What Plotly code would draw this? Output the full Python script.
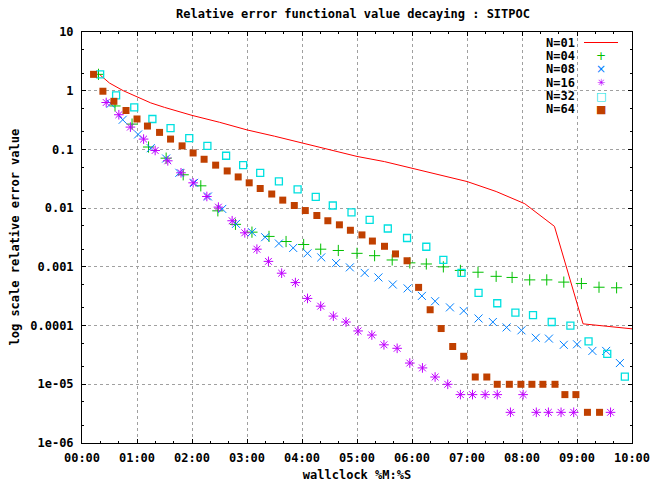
import plotly.graph_objects as go

# ---- data (time in minutes, values = relative error) ----
t01 = [0.33, 0.5, 0.75, 1.0, 1.25, 1.5, 1.75, 2.0, 2.5, 3.0, 3.5, 4.0, 4.5, 5.0,
       5.5, 6.0, 6.5, 7.0, 7.53, 8.05, 8.59, 9.11, 10.0]
v01 = [1.85, 1.35, 1.0, 0.78, 0.62, 0.52, 0.44, 0.38, 0.29, 0.215, 0.168, 0.13,
       0.099, 0.076, 0.062, 0.048, 0.037, 0.0284, 0.0192, 0.0119, 0.0049,
       0.000107, 0.000088]

t04 = [0.30, 0.60, 0.91, 1.21, 1.53, 1.84, 2.16, 2.47, 2.79, 3.09, 3.40, 3.71,
       4.03, 4.34, 4.66, 5.00, 5.32, 5.64, 5.96, 6.26, 6.57, 6.88, 7.20, 7.53,
       7.82, 8.14, 8.45, 8.76, 9.08, 9.40, 9.72]
v04 = [1.9, 0.55, 0.27, 0.11, 0.071, 0.037, 0.024, 0.009, 0.0053, 0.0039, 0.0033,
       0.0027, 0.0024, 0.0020, 0.0019, 0.0017, 0.00155, 0.00131, 0.00117, 0.00112,
       0.0010, 0.00087, 0.00081, 0.00069, 0.00066, 0.00060, 0.00060, 0.00055,
       0.00052, 0.00045, 0.00044]

t08 = [0.52, 0.74, 1.02, 1.25, 1.53, 1.77, 2.04, 2.29, 2.55, 2.80, 3.09, 3.33,
       3.58, 3.84, 4.10, 4.35, 4.62, 4.87, 5.14, 5.39, 5.65, 5.92, 6.18, 6.42,
       6.69, 6.94, 7.21, 7.47, 7.72, 7.99, 8.25, 8.49, 8.76, 9.00, 9.28, 9.53, 9.78]
v08 = [0.60, 0.32, 0.18, 0.105, 0.070, 0.040, 0.027, 0.0158, 0.0097, 0.0054,
       0.0039, 0.0032, 0.0025, 0.0021, 0.0017, 0.00145, 0.00116, 0.00098, 0.00079,
       0.00066, 0.00050, 0.00043, 0.00032, 0.00026, 0.000204, 0.000178, 0.000132,
       0.000115, 0.000093, 0.000083, 0.000062, 0.000060, 0.000047, 0.000048,
       0.000037, 0.000037, 0.000023]

t16 = [0.44, 0.67, 0.88, 1.12, 1.33, 1.56, 1.80, 2.02, 2.27, 2.48, 2.73, 2.96,
       3.18, 3.39, 3.63, 3.88, 4.10, 4.34, 4.57, 4.80, 5.02, 5.27, 5.49, 5.73,
       5.96, 6.19, 6.42, 6.65, 6.88, 7.10, 7.33, 7.55, 7.79, 8.02, 8.26, 8.48,
       8.71, 8.94, 9.61]
v16 = [0.63, 0.39, 0.24, 0.15, 0.096, 0.064, 0.040, 0.027, 0.0158, 0.0104, 0.0061,
       0.0038, 0.0020, 0.00124, 0.00078, 0.00054, 0.00029, 0.000214, 0.000145,
       0.000115, 0.000081, 0.000069, 0.000047, 0.000041, 0.000023, 0.000019,
       1.33e-5, 1.0e-5, 6.67e-6, 6.67e-6, 6.67e-6, 6.67e-6, 3.33e-6, 6.67e-6,
       3.33e-6, 3.33e-6, 3.33e-6, 3.33e-6, 3.33e-6]

t32 = [0.33, 0.62, 0.95, 1.28, 1.61, 1.95, 2.28, 2.62, 2.93, 3.24, 3.58, 3.92,
       4.25, 4.56, 4.90, 5.23, 5.56, 5.91, 6.26, 6.57, 6.90, 7.21, 7.55, 7.88,
       8.20, 8.54, 8.88, 9.21, 9.55, 9.87]
v32 = [1.9, 0.83, 0.52, 0.33, 0.23, 0.156, 0.115, 0.078, 0.054, 0.040, 0.0285,
       0.0209, 0.0155, 0.0111, 0.0085, 0.0063, 0.0045, 0.0031, 0.0022, 0.00132,
       0.00079, 0.00036, 0.00024, 0.000166, 0.000151, 0.000115, 0.00010, 5.4e-5,
       3.3e-5, 1.35e-5]

t64 = [0.21, 0.38, 0.58, 0.80, 1.00, 1.19, 1.41, 1.61, 1.82, 2.02, 2.22, 2.43,
       2.64, 2.84, 3.04, 3.24, 3.45, 3.65, 3.86, 4.06, 4.27, 4.47, 4.68, 4.88,
       5.09, 5.28, 5.50, 5.70, 5.91, 6.12, 6.33, 6.53, 6.74, 6.94, 7.15, 7.36,
       7.55, 7.77, 7.98, 8.18, 8.38, 8.60, 8.78, 8.98, 9.19, 9.41]
v64 = [1.9, 0.98, 0.66, 0.46, 0.33, 0.25, 0.195, 0.15, 0.115, 0.087, 0.068, 0.054,
       0.043, 0.034, 0.027, 0.0216, 0.0174, 0.0137, 0.0111, 0.0091, 0.0075, 0.0061,
       0.0052, 0.0042, 0.0035, 0.00275, 0.00224, 0.00166, 0.00127, 0.000447,
       0.000186, 8.9e-5, 4.4e-5, 3.0e-5, 1.33e-5, 1.33e-5, 1.0e-5, 1.0e-5, 1.0e-5,
       1.0e-5, 1.0e-5, 1.0e-5, 6.67e-6, 6.67e-6, 3.33e-6, 3.33e-6]

x_tickvals = [0, 1, 2, 3, 4, 5, 6, 7, 8, 9, 10]
x_ticktext = ["00:00", "01:00", "02:00", "03:00", "04:00", "05:00", "06:00",
              "07:00", "08:00", "09:00", "10:00"]
y_tickvals = [1e-6, 1e-5, 1e-4, 1e-3, 1e-2, 1e-1, 1, 10]
y_ticktext = ["1e-06", "1e-05", "0.0001", "0.001", "0.01", "0.1", "1", "10"]
y_minor = [m * 10.0 ** e for e in range(-6, 1) for m in (2, 5)]

names = ["N=01", "N=04", "N=08", "N=16", "N=32", "N=64"]
colors = ["#ff0000", "#00c000", "#0080ff", "#c000ff", "#00e0e0", "#c04000"]

FONT = dict(family="DejaVu Sans Mono", size=12, color="black", weight="bold")

fig = go.Figure()
fig.add_trace(go.Scatter(x=t01, y=v01, mode="lines", name=names[0],
                         line=dict(color=colors[0], width=1)))
series = [(t04, v04, "cross-thin-open", 8), (t08, v08, "x-thin-open", 8),
          (t16, v16, "asterisk-open", 8), (t32, v32, "square-open", 7)]
for i, (tx, vy, sym, sz) in enumerate(series, start=1):
    fig.add_trace(go.Scatter(x=tx, y=vy, mode="markers", name=names[i],
                             marker=dict(symbol=sym, size=sz, color=colors[i],
                                         line=dict(color=colors[i],
                                                   width=1.3 if i == 4 else 1))))
fig.add_trace(go.Scatter(x=t64, y=v64, mode="markers", name=names[5],
                         marker=dict(symbol="square", size=7, color=colors[5],
                                     line=dict(width=0))))

# legend drawn as text (label left, sample right, gnuplot style)
x0, x1 = 82, 632
y0, y1 = 32, 443
def px(xp):
    return (xp - x0) / (x1 - x0)
def py(yp):
    return (y1 - yp) / (y1 - y0)

row_y = [42.5, 56, 69.3, 82.7, 96, 109.3]
samples = [None, "+", "×", "✳", "□", "■"]
sample_sizes = [12, 12, 12, 10, 11, 11]
annotations = []
for i, nm in enumerate(names):
    annotations.append(dict(text=nm, xref="paper", yref="paper", x=px(577),
                            y=py(row_y[i]), xanchor="right", yanchor="middle",
                            showarrow=False, font=FONT))
    if samples[i] is not None:
        annotations.append(dict(text=samples[i], xref="paper", yref="paper",
                                x=px(601), y=py(row_y[i]), xanchor="center",
                                yanchor="middle", showarrow=False,
                                font=dict(family="DejaVu Sans", size=sample_sizes[i],
                                          color=colors[i])))
shapes = [dict(type="line", xref="paper", yref="paper", x0=px(584), x1=px(618),
               y0=py(row_y[0]), y1=py(row_y[0]),
               line=dict(color=colors[0], width=1))]

# y title
annotations.append(dict(text="log scale relative error value", xref="paper",
                        yref="paper", x=px(14), y=0.5, textangle=-90,
                        xanchor="center", yanchor="middle", showarrow=False,
                        font=FONT))

axis_common = dict(showline=True, linecolor="black", linewidth=1, mirror="ticks",
                   ticks="inside", ticklen=4, tickcolor="black", showgrid=True,
                   gridcolor="#a0a0a0", griddash="dot", gridwidth=1,
                   zeroline=False, tickfont=FONT)

fig.update_layout(
    width=651, height=483,
    margin=dict(l=x0, r=651 - x1, t=y0, b=483 - y1, autoexpand=False),
    paper_bgcolor="white", plot_bgcolor="white",
    showlegend=False,
    title=dict(text="Relative error functional value decaying : SITPOC",
               x=px(353), xref="paper", xanchor="center", y=1 - 13.5 / 483,
               yanchor="middle", font=FONT),
    xaxis=dict(range=[0, 10], tickvals=x_tickvals, ticktext=x_ticktext,
               minor=dict(dtick=1 / 3, tick0=0, ticklen=2, ticks="inside",
                          tickcolor="black", showgrid=False),
               title=dict(text="wallclock %M:%S", font=FONT, standoff=6),
               ticklabelstandoff=4, **axis_common),
    yaxis=dict(type="log", range=[-6, 1], tickvals=y_tickvals, ticktext=y_ticktext,
               minor=dict(tickvals=y_minor, ticklen=2, ticks="inside",
                          tickcolor="black", showgrid=False),
               ticklabelstandoff=5, **axis_common),
    annotations=annotations, shapes=shapes,
)

fig.write_html("out.html")
